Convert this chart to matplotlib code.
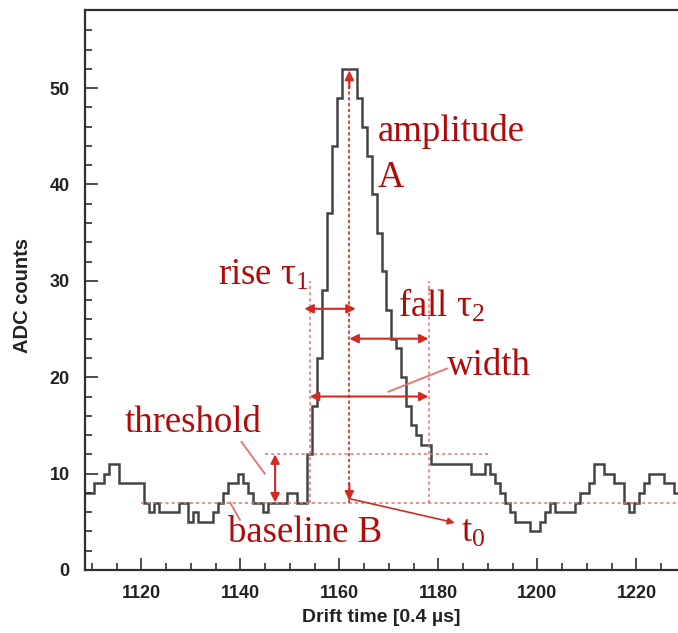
import numpy as np
import matplotlib
matplotlib.use("Agg")
import matplotlib.pyplot as plt

# pulse samples, one per drift-time bin (bin centres 1109 .. 1228)
T_FIRST = 1109
ADC = [8, 8, 9, 9, 10, 11, 11, 9, 9, 9,
       9, 9, 7, 6, 7, 6, 6, 6, 6, 7,
       7, 5, 6, 5, 5, 5, 6, 7, 8, 9,
       9, 10, 9, 8, 7, 7, 6, 7, 7, 7,
       7, 8, 8, 7, 7, 12, 17, 22, 29, 37,
       44, 49, 52, 52, 52, 49, 46, 43, 39, 35,
       31, 27, 24, 23, 20, 17, 15, 14, 13, 13,
       11, 11, 11, 11, 11, 11, 11, 11, 10, 10,
       10, 11, 10, 9, 8, 7, 6, 5, 5, 5,
       4, 4, 5, 6, 7, 6, 6, 6, 6, 7,
       8, 8, 9, 11, 11, 10, 10, 9, 9, 7,
       6, 7, 8, 9, 10, 10, 10, 9, 9, 8]

# pulse parameters
BASELINE = 7
THRESHOLD = 12
AMPLITUDE = 52
T0 = 1162
T_RISE = 1154
T_END = 1178

RED = "#d42a24"
TXT = "#b00a0a"
PALE = "#e47070"
GREY = "#444444"

plt.rcParams["mathtext.fontset"] = "custom"
plt.rcParams["mathtext.rm"] = "Liberation Serif"
plt.rcParams["mathtext.it"] = "Liberation Serif:italic"

fig = plt.figure(figsize=(6.78, 6.33), dpi=100)
ax = fig.add_axes([85 / 678, 63 / 633, 598 / 678, 560 / 633])

edges = np.arange(len(ADC) + 1) + T_FIRST - 0.5
ax.stairs(ADC, edges, baseline=None, color=GREY, lw=1.8)

ax.set_xlim(1108.6, 1229.4)
ax.set_ylim(0, 58.1)

# construction lines
dot = dict(color=PALE, lw=1.1, linestyles=(0, (2, 2)))
ax.hlines(BASELINE, 1120, 1230, **dot)
ax.hlines(THRESHOLD, 1145, 1190, **dot)
ax.vlines([T_RISE, T_END], BASELINE, 30, **dot)
ax.vlines(T0, BASELINE, AMPLITUDE, color=RED, lw=1.2, linestyles=(0, (2, 1.5)))

arr = dict(color=RED, lw=1.5, shrinkA=0, shrinkB=0, mutation_scale=13)
# amplitude arrow heads
ax.annotate("", xy=(T0, AMPLITUDE - 0.2), xytext=(T0, AMPLITUDE - 2),
            arrowprops=dict(arrowstyle="-|>", **arr))
ax.annotate("", xy=(T0, BASELINE + 0.2), xytext=(T0, BASELINE + 2),
            arrowprops=dict(arrowstyle="-|>", **arr))
# rise, fall, width, threshold
ax.annotate("", xy=(1152.9, 27.1), xytext=(1163.3, 27.1),
            arrowprops=dict(arrowstyle="<|-|>", **arr))
ax.annotate("", xy=(T0, 24.0), xytext=(T_END, 24.0),
            arrowprops=dict(arrowstyle="<|-|>", **arr))
ax.annotate("", xy=(T_RISE, 18.0), xytext=(T_END, 18.0),
            arrowprops=dict(arrowstyle="<|-|>", **arr))
ax.annotate("", xy=(1147, BASELINE), xytext=(1147, THRESHOLD),
            arrowprops=dict(arrowstyle="<|-|>", **arr))
# leaders to the labels
ax.plot([1140.2, 1144.9], [13.3, 10.0], color=PALE, lw=1.3)
ax.plot([1137.9, 1139.9], [7.0, 5.2], color=PALE, lw=1.3)
ax.plot([1181.7, 1169.9], [20.9, 18.5], color=PALE, lw=1.3)
ax.annotate("", xy=(1183.3, 4.9), xytext=(T0, 7.4),
            arrowprops=dict(arrowstyle="-|>", color=RED, lw=1.2,
                            shrinkA=0, shrinkB=0, mutation_scale=10))

lab = dict(color=TXT, fontsize=26.5, family="Liberation Serif", va="baseline")
ax.text(1167.8, 44.5, "amplitude", **lab)
ax.text(1167.8, 39.7, "A", **lab)
ax.text(1135.5, 29.6, r"rise τ$_\mathrm{1}$", **lab)
ax.text(1171.8, 26.3, r"fall τ$_\mathrm{2}$", **lab)
ax.text(1181.7, 20.2, "width", **lab)
ax.text(1116.7, 14.3, "threshold", **lab)
ax.text(1137.5, 2.95, "baseline B", **lab)
ax.text(1184.5, 2.95, r"t$_\mathrm{0}$", **lab)

# axis frame and ticks
for s in ax.spines.values():
    s.set_color("#303030")
    s.set_linewidth(1.6)
ax.spines["right"].set_visible(False)
ax.set_xticks(np.arange(1120, 1221, 20))
ax.set_xticks(np.arange(1110, 1230, 5), minor=True)
ax.set_yticks(np.arange(0, 51, 10))
ax.set_yticks(np.arange(0, 58, 2), minor=True)
ax.tick_params(which="both", direction="in", color="#303030", width=1.2,
               top=False, right=False)
ax.tick_params(which="major", length=9, pad=11)
ax.tick_params(which="minor", length=5)
for t in ax.get_xticklabels() + ax.get_yticklabels():
    t.set_fontfamily("Liberation Sans")
    t.set_fontweight("bold")
    t.set_fontsize(13)
    t.set_color("#222222")

ax.set_xlabel("Drift time [0.4 µs]", fontsize=14, fontweight="bold",
              family="Liberation Sans", color="#222222")
ax.xaxis.set_label_coords(0.495, -0.084)
ax.xaxis.label.set_va("center")
ax.set_ylabel("ADC counts", fontsize=14.5, fontweight="bold",
              family="Liberation Sans", color="#222222")
ax.yaxis.set_label_coords(-0.105, 0.491)
ax.yaxis.label.set_va("center")

fig.savefig("out.png", dpi=100)
